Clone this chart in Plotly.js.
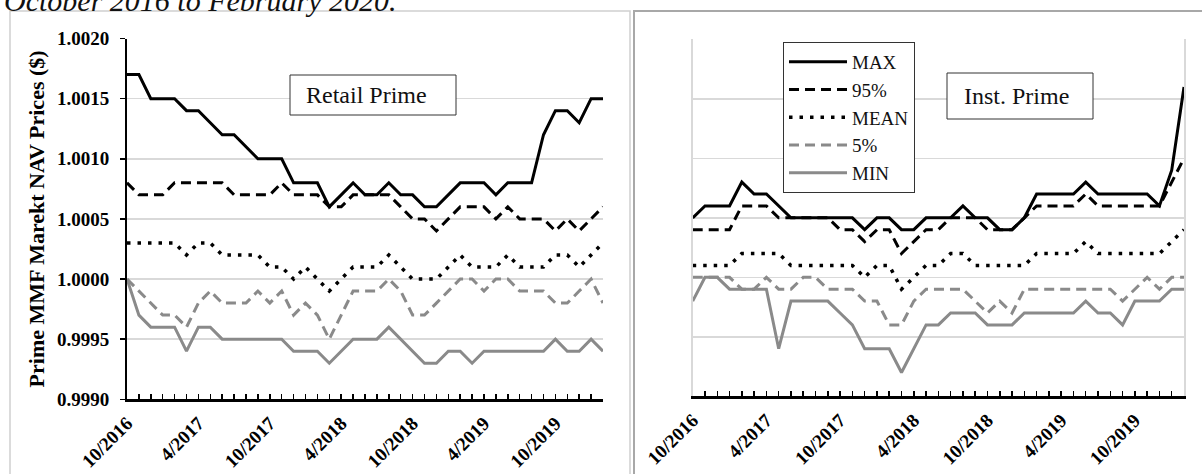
<!DOCTYPE html>
<html>
<head>
<meta charset="utf-8">
<script src="https://cdn.plot.ly/plotly-3.0.1.min.js"></script>
<style>
html,body{margin:0;padding:0;background:#fff;}
#chart{width:1202px;height:474px;}
</style>
</head>
<body>
<div id="chart"></div>
<script>
// ---------- DATA ----------
const months = ["10/2016","11/2016","12/2016","1/2017","2/2017","3/2017","4/2017","5/2017","6/2017","7/2017","8/2017","9/2017",
  "10/2017","11/2017","12/2017","1/2018","2/2018","3/2018","4/2018","5/2018","6/2018","7/2018","8/2018","9/2018",
  "10/2018","11/2018","12/2018","1/2019","2/2019","3/2019","4/2019","5/2019","6/2019","7/2019","8/2019","9/2019",
  "10/2019","11/2019","12/2019","1/2020","2/2020"];
const shownTickLabels = ["10/2016","4/2017","10/2017","4/2018","10/2018","4/2019","10/2019"];

const seriesNames = ["MAX","95%","MEAN","5%","MIN"];

const retailMax  = [1.0017,1.0017,1.0015,1.0015,1.0015,1.0014,1.0014,1.0013,1.0012,1.0012,1.0011,1.0010,1.0010,1.0010,1.0008,1.0008,1.0008,1.0006,1.0007,1.0008,1.0007,1.0007,1.0008,1.0007,1.0007,1.0006,1.0006,1.0007,1.0008,1.0008,1.0008,1.0007,1.0008,1.0008,1.0008,1.0012,1.0014,1.0014,1.0013,1.0015,1.0015];
const retail95   = [1.0008,1.0007,1.0007,1.0007,1.0008,1.0008,1.0008,1.0008,1.0008,1.0007,1.0007,1.0007,1.0007,1.0008,1.0007,1.0007,1.0007,1.0006,1.0006,1.0007,1.0007,1.0007,1.0007,1.0006,1.0005,1.0005,1.0004,1.0005,1.0006,1.0006,1.0006,1.0005,1.0006,1.0005,1.0005,1.0005,1.0004,1.0005,1.0004,1.0005,1.0006];
const retailMean = [1.0003,1.0003,1.0003,1.0003,1.0003,1.0002,1.0003,1.0003,1.0002,1.0002,1.0002,1.0002,1.0001,1.0001,1.0000,1.0001,1.0000,0.9999,1.0000,1.0001,1.0001,1.0001,1.0002,1.0001,1.0000,1.0000,1.0000,1.0001,1.0002,1.0001,1.0001,1.0001,1.0002,1.0001,1.0001,1.0001,1.0002,1.0002,1.0001,1.0002,1.0003];
const retail5    = [1.0000,0.9999,0.9998,0.9997,0.9997,0.9996,0.9998,0.9999,0.9998,0.9998,0.9998,0.9999,0.9998,0.9999,0.9997,0.9998,0.9997,0.9995,0.9997,0.9999,0.9999,0.9999,1.0000,0.9999,0.9997,0.9997,0.9998,0.9999,1.0000,1.0000,0.9999,1.0000,1.0000,0.9999,0.9999,0.9999,0.9998,0.9998,0.9999,1.0000,0.9998];
const retailMin  = [1.0000,0.9997,0.9996,0.9996,0.9996,0.9994,0.9996,0.9996,0.9995,0.9995,0.9995,0.9995,0.9995,0.9995,0.9994,0.9994,0.9994,0.9993,0.9994,0.9995,0.9995,0.9995,0.9996,0.9995,0.9994,0.9993,0.9993,0.9994,0.9994,0.9993,0.9994,0.9994,0.9994,0.9994,0.9994,0.9994,0.9995,0.9994,0.9994,0.9995,0.9994];

const instMax  = [1.0005,1.0006,1.0006,1.0006,1.0008,1.0007,1.0007,1.0006,1.0005,1.0005,1.0005,1.0005,1.0005,1.0005,1.0004,1.0005,1.0005,1.0004,1.0004,1.0005,1.0005,1.0005,1.0006,1.0005,1.0005,1.0004,1.0004,1.0005,1.0007,1.0007,1.0007,1.0007,1.0008,1.0007,1.0007,1.0007,1.0007,1.0007,1.0006,1.0009,1.0016];
const inst95   = [1.0004,1.0004,1.0004,1.0004,1.0006,1.0006,1.0006,1.0005,1.0005,1.0005,1.0005,1.0005,1.0004,1.0004,1.0003,1.0004,1.0004,1.0002,1.0003,1.0004,1.0004,1.0005,1.0005,1.0005,1.0004,1.0004,1.0004,1.0005,1.0006,1.0006,1.0006,1.0006,1.0007,1.0006,1.0006,1.0006,1.0006,1.0006,1.0006,1.0008,1.0010];
const instMean = [1.0001,1.0001,1.0001,1.0001,1.0002,1.0002,1.0002,1.0002,1.0001,1.0001,1.0001,1.0001,1.0001,1.0001,1.0000,1.0001,1.0001,0.9999,1.0000,1.0001,1.0001,1.0002,1.0002,1.0001,1.0001,1.0001,1.0001,1.0001,1.0002,1.0002,1.0002,1.0002,1.0003,1.0002,1.0002,1.0002,1.0002,1.0002,1.0002,1.0003,1.0004];
const inst5    = [1.0000,1.0000,1.0000,1.0000,0.9999,0.9999,1.0000,0.9999,0.9999,1.0000,1.0000,0.9999,0.9999,0.9999,0.9998,0.9998,0.9996,0.9996,0.9998,0.9999,0.9999,0.9999,0.9999,0.9998,0.9997,0.9998,0.9997,0.9999,0.9999,0.9999,0.9999,0.9999,0.9999,0.9999,0.9999,0.9998,0.9999,1.0000,0.9999,1.0000,1.0000];
const instMin  = [0.9998,1.0000,1.0000,0.9999,0.9999,0.9999,0.9999,0.9994,0.9998,0.9998,0.9998,0.9998,0.9997,0.9996,0.9994,0.9994,0.9994,0.9992,0.9994,0.9996,0.9996,0.9997,0.9997,0.9997,0.9996,0.9996,0.9996,0.9997,0.9997,0.9997,0.9997,0.9997,0.9998,0.9997,0.9997,0.9996,0.9998,0.9998,0.9998,0.9999,0.9999];

const panelTitles = ["Retail Prime","Inst. Prime"];
const yAxisTitle = "Prime MMF Marekt NAV Prices ($)";
const caption = "October 2016 to February 2020.";

// ---------- STYLE ----------
const W = 1202, H = 474;
const px = x => x / W;
const py = y => 1 - y / H;
const SERIF = "'Liberation Serif', 'Times New Roman', serif";
const GRAY = "#8a8a8a";
const styles = [
  {color:"#000", width:3, dash:"solid"},
  {color:"#000", width:3, dash:"10px,6px"},
  {color:"#000", width:3.5, dash:"3.5px,7px"},
  {color:GRAY, width:3, dash:"10px,6px"},
  {color:GRAY, width:3, dash:"solid"}
];

const retail = [retailMax, retail95, retailMean, retail5, retailMin];
const inst = [instMax, inst95, instMean, inst5, instMin];

const traces = [];
retail.forEach((ys, k) => traces.push({
  type:"scatter", mode:"lines", x:months, y:ys, name:seriesNames[k],
  line:Object.assign({}, styles[k]), xaxis:"x", yaxis:"y", showlegend:true,
  hoverinfo:"skip"
}));
inst.forEach((ys, k) => traces.push({
  type:"scatter", mode:"lines", x:months, y:ys, name:seriesNames[k],
  line:Object.assign({}, styles[k]), xaxis:"x2", yaxis:"y2", showlegend:false,
  hoverinfo:"skip"
}));

const tickText = months.map(m => shownTickLabels.includes(m) ? m : "");

function xAxis(domain, anchor) {
  return {
    type:"category", domain:domain, range:[0, months.length-1], anchor:anchor, side:"bottom",
    tickmode:"array", tickvals:months, ticktext:tickText,
    ticks:"inside", ticklen:5, tickwidth:1.5, tickcolor:"#000",
    showline:true, linecolor:"#000", linewidth:2.5, mirror:false,
    showgrid:false, zeroline:false, tickangle:-45,
    tickfont:{family:SERIF, size:19, color:"#000", weight:700},
    ticklabelstandoff:3, automargin:false, fixedrange:true
  };
}

const layout = {
  width:W, height:H,
  margin:{l:0,r:0,t:0,b:0,pad:0},
  paper_bgcolor:"#fff", plot_bgcolor:"rgba(0,0,0,0)",
  showlegend:true,
  legend:{
    x:px(783), y:py(42), xanchor:"left", yanchor:"top",
    bgcolor:"#fff", bordercolor:"#333", borderwidth:1,
    font:{family:SERIF, size:19, color:"#111"},
    tracegroupgap:0, itemwidth:58
  },
  xaxis: xAxis([px(127), px(603)], "y"),
  xaxis2: xAxis([px(692.7), px(1184)], "y2"),
  yaxis:{
    domain:[py(399.3), py(38.5)], range:[0.999, 1.002], anchor:"x",
    tick0:0.999, dtick:0.0005, tickformat:".4f",
    showgrid:true, gridcolor:"#d9d9d9", gridwidth:1.5, zeroline:false,
    showline:true, linecolor:"#000", linewidth:2,
    ticks:"outside", ticklen:5, tickwidth:1.5, tickcolor:"#000",
    tickfont:{family:SERIF, size:19, color:"#000", weight:700},
    ticklabelstandoff:7,
    title:{text:yAxisTitle, font:{family:SERIF, size:22, color:"#000", weight:700}, standoff:6},
    automargin:false, fixedrange:true
  },
  yaxis2:{
    domain:[py(396.3), py(39.3)], range:[0.999, 1.002], anchor:"x2",
    tick0:0.999, dtick:0.0005,
    showgrid:true, gridcolor:"#d9d9d9", gridwidth:1.5, zeroline:false,
    showline:true, linecolor:"#d9d9d9", linewidth:1.5, mirror:true,
    ticks:"", showticklabels:false,
    automargin:false, fixedrange:true
  },
  shapes:[
    {type:"rect", xref:"paper", yref:"paper", x0:px(10), x1:px(630), y0:py(11), y1:-0.05,
     line:{color:"#d0d0d0", width:1.5}, fillcolor:"rgba(0,0,0,0)", layer:"below"},
    {type:"rect", xref:"paper", yref:"paper", x0:px(634), x1:1.05, y0:py(11), y1:-0.05,
     line:{color:"#a8a8a8", width:2}, fillcolor:"rgba(0,0,0,0)", layer:"below"},
    {type:"rect", xref:"paper", yref:"paper", x0:px(290), x1:px(456), y0:py(115), y1:py(75),
     line:{color:"#333", width:1}, fillcolor:"#fff", layer:"above"},
    {type:"rect", xref:"paper", yref:"paper", x0:px(947), x1:px(1093), y0:py(119), y1:py(73),
     line:{color:"#333", width:1}, fillcolor:"#fff", layer:"above"}
  ],
  annotations:[
    {text:panelTitles[0], xref:"paper", yref:"paper", x:px(366), y:py(95), xanchor:"center", yanchor:"middle",
     showarrow:false, font:{family:SERIF, size:24, color:"#111"}},
    {text:panelTitles[1], xref:"paper", yref:"paper", x:px(1016), y:py(96), xanchor:"center", yanchor:"middle",
     showarrow:false, font:{family:SERIF, size:24, color:"#111"}},
    {text:"<i>"+caption+"</i>", xref:"paper", yref:"paper", x:px(2), y:py(19), xanchor:"left", yanchor:"bottom",
     showarrow:false, font:{family:SERIF, size:30, color:"#111"}}
  ]
};

Plotly.newPlot("chart", traces, layout, {displayModeBar:false, staticPlot:true});
</script>
</body>
</html>
